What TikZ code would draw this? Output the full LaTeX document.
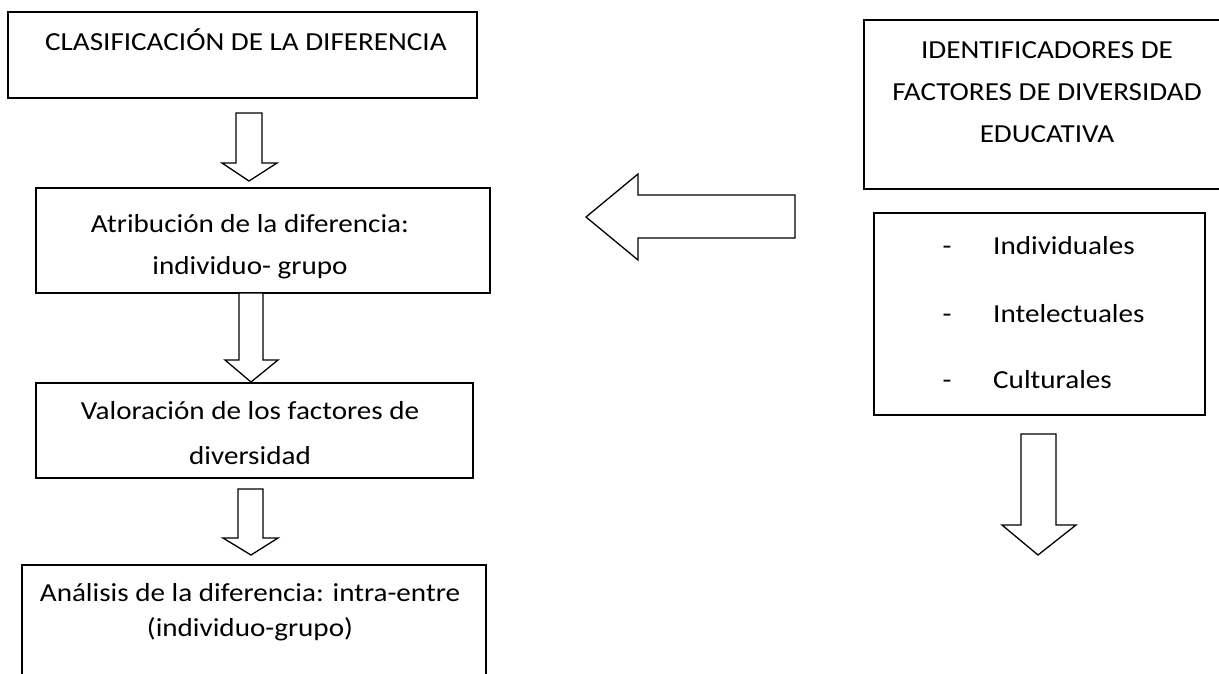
\documentclass[tikz,border=0pt]{standalone}
\usepackage{fontspec}
\setmainfont{Carlito}[FakeStretch=1.12]
\begin{document}
\begin{tikzpicture}[x=1pt,y=-1pt,
  boxline/.style={draw=black,line width=1.6pt},
  blockarrow/.style={draw=black,line width=1.3pt,fill=white,line join=miter},
  txt/.style={font=\fontsize{26}{30}\selectfont,inner sep=0pt},
]
\useasboundingbox (0,0) rectangle (1219,673);
\clip (0,0) rectangle (1219,673);
% left column boxes
\draw[boxline] (8,12) rectangle (477,98);
\node[txt,anchor=base west] (t1) at (45,50) {CLASIFICACIÓN DE LA DIFERENCIA};
\draw[boxline] (36,188) rectangle (490,293);
\node[txt,anchor=base] (t2a) at (250,232) {Atribución de la diferencia:};
\node[txt,anchor=base] (t2b) at (250,274) {individuo- grupo};
\draw[boxline] (36,383) rectangle (473,478);
\node[txt,anchor=base] (t3a) at (250,419) {Valoración de los factores de};
\node[txt,anchor=base] (t3b) at (250,464) {diversidad};
\draw[boxline] (22,565) rectangle (486,690);
\node[txt,anchor=base] (t4a) at (250,601) {Análisis de la diferencia: intra-entre};
\node[txt,anchor=base] (t4b) at (250,636) {(individuo-grupo)};
% right column
\draw[boxline] (864,20) rectangle (1230,189);
\node[txt,anchor=base] (r1a) at (1047,58) {IDENTIFICADORES DE};
\node[txt,anchor=base] (r1b) at (1047,100) {FACTORES DE DIVERSIDAD};
\node[txt,anchor=base] (r1c) at (1047,142) {EDUCATIVA};
\draw[boxline] (874,213) rectangle (1205,415);
\node[txt,anchor=base] (d1) at (947,254) {-};
\node[txt,anchor=base west] (i1) at (993,254) {Individuales};
\node[txt,anchor=base] (d2) at (947,322) {-};
\node[txt,anchor=base west] (i2) at (993,322) {Intelectuales};
\node[txt,anchor=base] (d3) at (947,388) {-};
\node[txt,anchor=base west] (i3) at (993,388) {Culturales};
% block arrows
\draw[blockarrow] (236,113) -- (262,113) -- (262,163) -- (277,163) -- (249,181) -- (222,163) -- (236,163) -- cycle;
\draw[blockarrow] (239,293) -- (263,293) -- (263,360) -- (278,360) -- (251,382) -- (225,360) -- (239,360) -- cycle;
\draw[blockarrow] (238,489) -- (263,489) -- (263,538) -- (278,538) -- (251,555) -- (223,538) -- (238,538) -- cycle;
\draw[blockarrow] (1021,434) -- (1056,434) -- (1056,525) -- (1076,525) -- (1038,555) -- (1002,525) -- (1021,525) -- cycle;
\draw[blockarrow] (795,195) -- (795,238) -- (638,238) -- (638,260) -- (586,217) -- (638,174) -- (638,195) -- cycle;
\end{tikzpicture}
\end{document}
